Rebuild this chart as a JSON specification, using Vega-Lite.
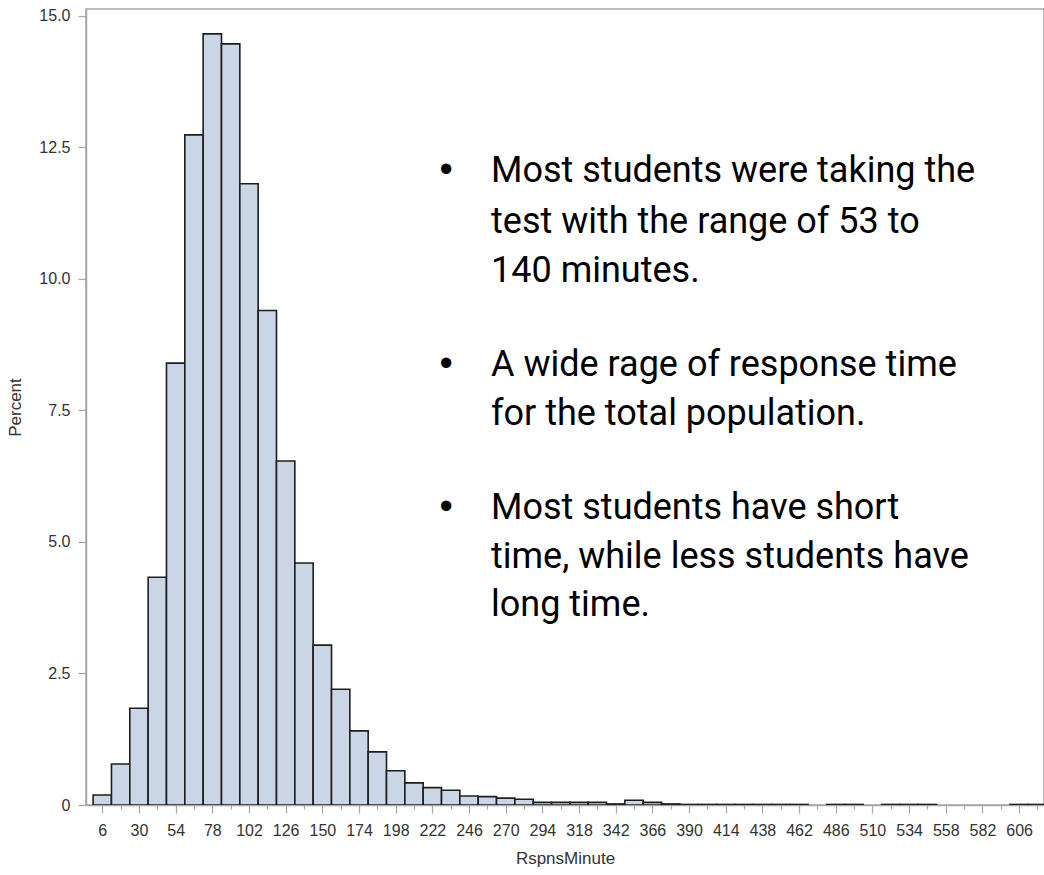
{
  "$schema": "https://vega.github.io/schema/vega-lite/v6.json",
  "autosize": {"type": "none"},
  "width": 958,
  "height": 796,
  "padding": {"left": 86, "top": 9, "right": 0, "bottom": 70},
  "background": "white",
  "config": {
    "view": {"stroke": "#a6a6a6", "strokeWidth": 1.5},
    "axis": {
      "labelFont": "Liberation Sans",
      "titleFont": "Liberation Sans",
      "labelColor": "#333333",
      "titleColor": "#333333",
      "titleFontWeight": "normal",
      "domainColor": "#a6a6a6",
      "tickColor": "#a6a6a6",
      "domainWidth": 1.5,
      "tickWidth": 1.2,
      "grid": false
    }
  },
  "datasets": {
    "bins": [
      {"x": 0, "x_end": 12, "y": 0.19},
      {"x": 12, "x_end": 24, "y": 0.78},
      {"x": 24, "x_end": 36, "y": 1.84},
      {"x": 36, "x_end": 48, "y": 4.33},
      {"x": 48, "x_end": 60, "y": 8.40},
      {"x": 60, "x_end": 72, "y": 12.74},
      {"x": 72, "x_end": 84, "y": 14.66},
      {"x": 84, "x_end": 96, "y": 14.47},
      {"x": 96, "x_end": 108, "y": 11.81},
      {"x": 108, "x_end": 120, "y": 9.40},
      {"x": 120, "x_end": 132, "y": 6.54},
      {"x": 132, "x_end": 144, "y": 4.60},
      {"x": 144, "x_end": 156, "y": 3.04},
      {"x": 156, "x_end": 168, "y": 2.20},
      {"x": 168, "x_end": 180, "y": 1.41},
      {"x": 180, "x_end": 192, "y": 1.01},
      {"x": 192, "x_end": 204, "y": 0.65},
      {"x": 204, "x_end": 216, "y": 0.42},
      {"x": 216, "x_end": 228, "y": 0.33},
      {"x": 228, "x_end": 240, "y": 0.28},
      {"x": 240, "x_end": 252, "y": 0.17},
      {"x": 252, "x_end": 264, "y": 0.16},
      {"x": 264, "x_end": 276, "y": 0.13},
      {"x": 276, "x_end": 288, "y": 0.11},
      {"x": 288, "x_end": 300, "y": 0.05},
      {"x": 300, "x_end": 312, "y": 0.05},
      {"x": 312, "x_end": 324, "y": 0.05},
      {"x": 324, "x_end": 336, "y": 0.05},
      {"x": 336, "x_end": 348, "y": 0.02},
      {"x": 348, "x_end": 360, "y": 0.09},
      {"x": 360, "x_end": 372, "y": 0.05},
      {"x": 372, "x_end": 384, "y": 0.02},
      {"x": 384, "x_end": 396, "y": 0.01},
      {"x": 396, "x_end": 408, "y": 0.01},
      {"x": 408, "x_end": 420, "y": 0.01},
      {"x": 420, "x_end": 432, "y": 0.01},
      {"x": 432, "x_end": 444, "y": 0.01},
      {"x": 444, "x_end": 456, "y": 0.01},
      {"x": 456, "x_end": 468, "y": 0.01},
      {"x": 480, "x_end": 492, "y": 0.01},
      {"x": 492, "x_end": 504, "y": 0.01},
      {"x": 516, "x_end": 528, "y": 0.01},
      {"x": 528, "x_end": 540, "y": 0.01},
      {"x": 540, "x_end": 552, "y": 0.01},
      {"x": 600, "x_end": 612, "y": 0.01},
      {"x": 612, "x_end": 624, "y": 0.01}
    ],
    "lines": [
      {"x": 260.4, "y": 11.84, "text": "Most students were taking the"},
      {"x": 260.4, "y": 10.87, "text": "test with the range of 53 to"},
      {"x": 260.4, "y": 9.94, "text": "140 minutes."},
      {"x": 260.4, "y": 8.16, "text": "A wide rage of response time"},
      {"x": 260.4, "y": 7.23, "text": "for the total population."},
      {"x": 260.4, "y": 5.44, "text": "Most students have short"},
      {"x": 260.4, "y": 4.51, "text": "time, while less students have"},
      {"x": 260.4, "y": 3.60, "text": "long time."}
    ],
    "bullets": [
      {"x": 231, "y": 11.84, "text": "•"},
      {"x": 231, "y": 8.16, "text": "•"},
      {"x": 231, "y": 5.44, "text": "•"}
    ]
  },
  "encoding": {
    "x": {
      "field": "x", "type": "quantitative",
      "scale": {"domain": [-4.67, 622.3], "nice": false, "zero": false},
      "title": "RspnsMinute",
      "axis": {
        "values": [6,18,30,42,54,66,78,90,102,114,126,138,150,162,174,186,198,210,222,234,246,258,270,282,294,306,318,330,342,354,366,378,390,402,414,426,438,450,462,474,486,498,510,522,534,546,558,570,582,594,606,618],
        "labelExpr": "(datum.value - 6) % 24 == 0 && datum.value <= 606 ? datum.label : ''",
        "labelOverlap": false,
        "labelBound": false,
        "labelFlush": false,
        "labelFontSize": 16,
        "labelPadding": 9,
        "tickSize": {"condition": {"test": "(datum.value - 6) % 24 == 0", "value": 8}, "value": 4},
        "titleFontSize": 17,
        "titlePadding": 12
      }
    },
    "y": {
      "field": "y", "type": "quantitative",
      "scale": {"domain": [0, 15.133], "nice": false, "zero": true},
      "title": "Percent",
      "axis": {
        "values": [0, 2.5, 5, 7.5, 10, 12.5, 15],
        "labelExpr": "datum.value == 0 ? '0' : format(datum.value, '.1f')",
        "labelFontSize": 16,
        "labelPadding": 8,
        "tickSize": 8,
        "titleFontSize": 17,
        "titlePadding": 14
      }
    }
  },
  "layer": [
    {
      "data": {"name": "bins"},
      "mark": {"type": "bar", "fill": "#cad5e6", "stroke": "#1e1e1e", "strokeWidth": 1.6, "clip": true},
      "encoding": {
        "x2": {"field": "x_end"},
        "y2": {"datum": 0}
      }
    },
    {
      "data": {"name": "lines"},
      "mark": {"type": "text", "align": "left", "baseline": "alphabetic", "font": "Roboto", "fontSize": 36, "color": "#000000"},
      "encoding": {
        "text": {"field": "text"}
      }
    },
    {
      "data": {"name": "bullets"},
      "mark": {"type": "text", "align": "center", "baseline": "alphabetic", "font": "Liberation Sans", "fontSize": 38, "color": "#000000"},
      "encoding": {
        "text": {"field": "text"}
      }
    }
  ]
}
